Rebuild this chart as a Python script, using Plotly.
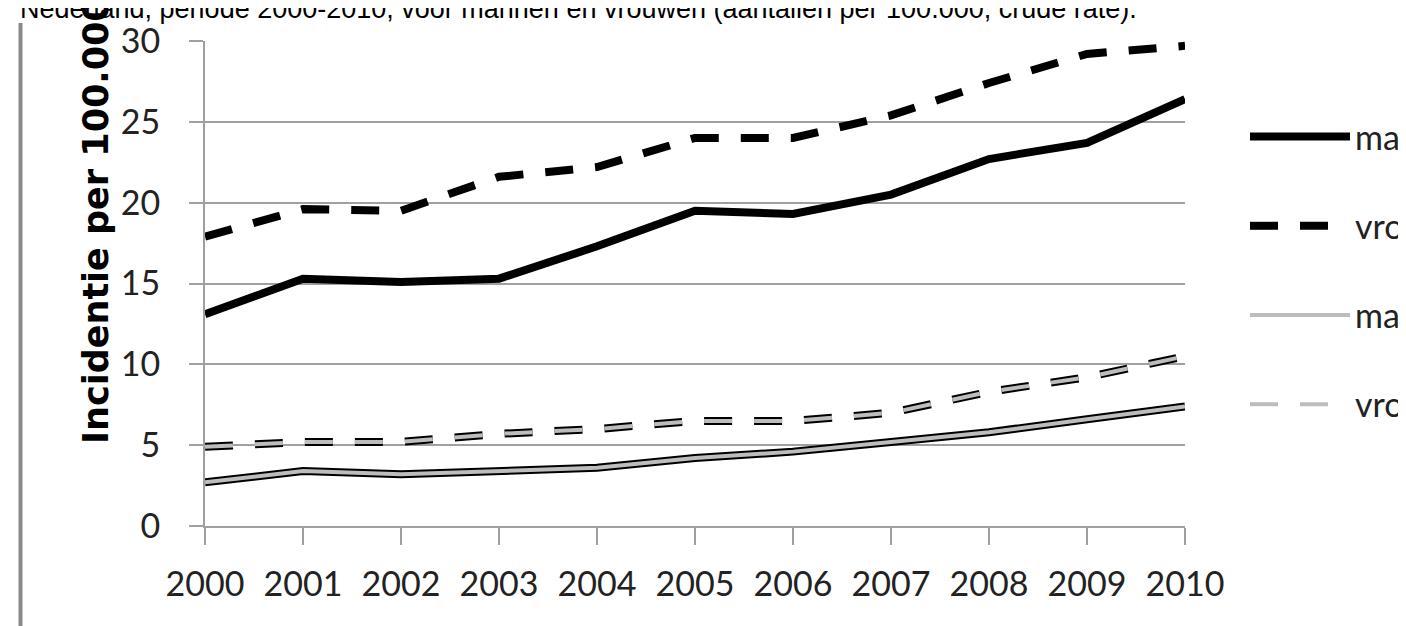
import plotly.graph_objects as go

years = [2000, 2001, 2002, 2003, 2004, 2005, 2006, 2007, 2008, 2009, 2010]
mannen_zwart = [13.1, 15.3, 15.1, 15.3, 17.3, 19.5, 19.3, 20.5, 22.7, 23.7, 26.4]
vrouwen_zwart = [17.9, 19.6, 19.5, 21.6, 22.2, 24.0, 24.0, 25.4, 27.4, 29.2, 29.7]
mannen_grijs = [2.7, 3.4, 3.2, 3.4, 3.6, 4.2, 4.6, 5.2, 5.8, 6.6, 7.4]
vrouwen_grijs = [4.9, 5.2, 5.2, 5.7, 6.0, 6.5, 6.5, 7.0, 8.3, 9.2, 10.5]
y_ticks = [0, 5, 10, 15, 20, 25, 30]
names = ["mannen", "vrouwen", "mannen ", "vrouwen "]
title_text = "Nederland, periode 2000-2010, voor mannen en vrouwen (aantallen per 100.000, crude rate)."
ytitle_text = "Incidentie per 100.000"

W, H = 1406, 626
L, R, T, B = 197, 229, 33, 108
pw, ph = W - L - R, H - T - B

def px_x(p):
    return (p - L) / pw

def px_y(p):
    return (H - B - p) / ph

DASH = "28px,22px"
GREY = "#bdbdbd"
tick_font = dict(family="Lato, sans-serif", size=34, color="#222222")

fig = go.Figure()
fig.add_trace(go.Scatter(x=years, y=mannen_zwart, mode="lines", name=names[0], legendgroup="a",
                         line=dict(color="black", width=8)))
fig.add_trace(go.Scatter(x=years, y=vrouwen_zwart, mode="lines", name=names[1], legendgroup="b",
                         line=dict(color="black", width=8, dash=DASH)))
fig.add_trace(go.Scatter(x=years, y=mannen_grijs, mode="lines", showlegend=False, legendgroup="c",
                         line=dict(color="black", width=8), hoverinfo="skip"))
fig.add_trace(go.Scatter(x=years, y=mannen_grijs, mode="lines", name=names[2], legendgroup="c",
                         line=dict(color=GREY, width=4)))
fig.add_trace(go.Scatter(x=years, y=vrouwen_grijs, mode="lines", showlegend=False, legendgroup="d",
                         line=dict(color="black", width=8, dash=DASH), hoverinfo="skip"))
fig.add_trace(go.Scatter(x=years, y=vrouwen_grijs, mode="lines", name=names[3], legendgroup="d",
                         line=dict(color=GREY, width=4, dash=DASH)))

fig.update_layout(
    width=W, height=H,
    margin=dict(l=L, r=R, t=T, b=B, pad=0, autoexpand=False),
    paper_bgcolor="white", plot_bgcolor="white",
    font=dict(family="Lato, sans-serif", size=34, color="#222222"),
    legend=dict(xref="container", yref="container", x=1237 / W, xanchor="left",
                y=1 - 100 / H, yanchor="top",
                itemwidth=100, tracegroupgap=42, font=tick_font,
                bgcolor="rgba(0,0,0,0)"),
    showlegend=True,
)
fig.update_xaxes(range=[2000, 2010], tickmode="array", tickvals=years,
                 ticktext=[str(y) for y in years], showgrid=False, zeroline=False,
                 showline=True, linecolor="#a0a0a0", linewidth=2, tickangle=0,
                 ticks="outside", ticklen=17, tickwidth=2, tickcolor="#a0a0a0",
                 tickfont=tick_font, ticklabelstandoff=10, automargin=False)
fig.update_yaxes(range=[0, 30], tickmode="array", tickvals=y_ticks,
                 showgrid=True, gridcolor="#a0a0a0", gridwidth=2, zeroline=False,
                 showline=True, linecolor="#a0a0a0", linewidth=2,
                 ticks="outside", ticklen=14, tickwidth=2, tickcolor="#a0a0a0",
                 tickfont=tick_font, ticklabelstandoff=22, automargin=False)

fig.add_annotation(text=title_text, xref="paper", yref="paper", x=px_x(10), y=px_y(1),
                   xanchor="left", yanchor="middle", showarrow=False,
                   font=dict(family="Liberation Sans, Arial, sans-serif", size=27, color="black"))
fig.add_annotation(text=ytitle_text, xref="paper", yref="paper", x=px_x(88), y=px_y(213),
                   xanchor="center", yanchor="middle", textangle=-90, showarrow=False,
                   font=dict(family="DejaVu Sans, sans-serif", size=35, color="black", weight="bold"))
fig.add_shape(type="line", xref="paper", yref="paper", x0=px_x(12.5), x1=px_x(12.5),
              y0=px_y(15), y1=px_y(640), line=dict(color="#8a8a8a", width=4))

fig.write_html("out.html")
